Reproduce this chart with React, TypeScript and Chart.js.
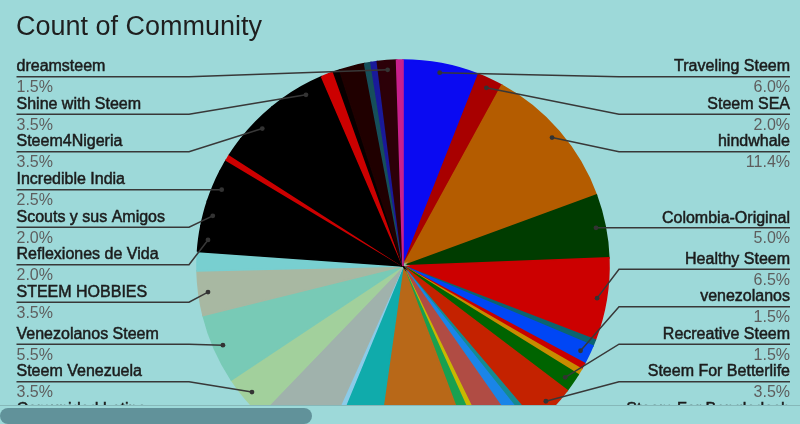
import React, { useEffect, useRef } from 'react';
import { Chart, registerables } from 'chart.js';

Chart.register(...registerables);

const TITLE = 'Count of Community';

// Slices in clockwise order from 12 o'clock (counts; total 201)
const communities = [
  'Traveling Steem', 'Steem SEA', 'hindwhale', 'Colombia-Original', 'Healthy Steem',
  'Community 6', 'venezolanos', 'Community 8', 'Community 9', 'Recreative Steem',
  'Steem For Betterlife', 'Community 12', 'Community 13', 'Steem For Bangladesh', 'Community 15',
  'Community 16', 'Community 17', 'Community 18', 'Community 19', 'Comunidad Latina',
  'Steem Venezuela', 'Venezolanos Steem', 'STEEM HOBBIES', 'Community 24', 'Reflexiones de Vida',
  'Scouts y sus Amigos', 'Incredible India', 'Community 28', 'Community 29', 'Community 30',
  'Steem4Nigeria', 'Community 32', 'Shine with Steem', 'Community 34', 'Community 35',
  'Community 36', 'Community 37', 'Community 38', 'dreamsteem', 'Community 40',
];

const counts = [
  12, 4, 23, 10, 13,
  1, 3, 1, 1, 3,
  7, 1, 2, 5, 1,
  2, 16, 8, 1, 11,
  7, 11, 7, 3, 4,
  4, 5, 2, 1, 3,
  7, 2, 7, 2, 1,
  4, 1, 1, 3, 1,
];

const sliceColors = [
  '#0a0af2', '#a80000', '#b45c00', '#003c00', '#cc0000',
  '#0b6470', '#0046f5', '#c80000', '#c88c00', '#006400',
  '#c42200', '#158a90', '#1a85e8', '#b04c44', '#c8b800',
  '#18a050', '#b86818', '#10abab', '#8ccbe8', '#a0b2ac',
  '#a2d09c', '#78cab6', '#a8b8a2', '#78cfd0', '#000000',
  '#000000', '#000000', '#000000', '#cc0000', '#000000',
  '#000000', '#000000', '#000000', '#cc0000', '#060000',
  '#200000', '#164f5a', '#1a1a9a', '#2c0008', '#c8208c',
];

// Slices that carry an outside label
const labeledCommunities = [
  'Traveling Steem', 'Steem SEA', 'hindwhale', 'Colombia-Original', 'Healthy Steem',
  'venezolanos', 'Recreative Steem', 'Steem For Betterlife', 'Steem For Bangladesh', 'Community 17',
  'Community 18', 'Comunidad Latina', 'Steem Venezuela', 'Venezolanos Steem', 'STEEM HOBBIES',
  'Reflexiones de Vida', 'Scouts y sus Amigos', 'Incredible India', 'Steem4Nigeria',
  'Shine with Steem', 'dreamsteem',
];

const BG = '#9dd9d9';
const FONT = '"Liberation Sans", Arial, Helvetica, sans-serif';

const TOP_ROW = 76.7;
const BOTTOM_ROW = 456.7;
const ROW_GAP = 37.5;
const LEFT_X = 16.5;
const RIGHT_X = 790;
const LEFT_ELBOW = 189;
const RIGHT_ELBOW = 619;
const DOT_RATIO = 0.955;

type Item = { idx: number; dotX: number; dotY: number; row: number };

const layoutSide = (items: Item[]) => {
  items.sort((a, b) => a.dotY - b.dotY);
  let prev = -Infinity;
  for (const it of items) {
    it.row = Math.max(it.dotY, TOP_ROW, prev + ROW_GAP);
    prev = it.row;
  }
  let next = Infinity;
  for (let k = items.length - 1; k >= 0; k--) {
    const it = items[k];
    it.row = Math.min(it.row, BOTTOM_ROW, next - ROW_GAP);
    next = it.row;
  }
};

const labelPlugin = {
  id: 'sheetLabels',
  afterDraw(chart: any) {
    const ctx: CanvasRenderingContext2D = chart.ctx;
    const meta = chart.getDatasetMeta(0);
    const total = counts.reduce((a, b) => a + b, 0);
    const left: Item[] = [];
    const right: Item[] = [];
    meta.data.forEach((arc: any, i: number) => {
      const p = arc.getProps(['x', 'y', 'startAngle', 'endAngle', 'outerRadius'], true);
      if (!labeledCommunities.includes(communities[i])) return;
      const mid = (p.startAngle + p.endAngle) / 2;
      const r = p.outerRadius * DOT_RATIO;
      const it: Item = { idx: i, dotX: p.x + Math.cos(mid) * r, dotY: p.y + Math.sin(mid) * r, row: 0 };
      (it.dotX < p.x ? left : right).push(it);
    });
    layoutSide(left);
    layoutSide(right);

    ctx.save();
    // title
    ctx.fillStyle = '#1f1f1f';
    ctx.font = `27px ${FONT}`;
    ctx.textAlign = 'left';
    ctx.textBaseline = 'alphabetic';
    ctx.fillText(TITLE, 16, 35);

    const drawItem = (it: Item, isLeft: boolean) => {
      const tx = isLeft ? LEFT_X : RIGHT_X;
      const ex = isLeft ? LEFT_ELBOW : RIGHT_ELBOW;
      ctx.strokeStyle = '#383838';
      ctx.lineWidth = 1.5;
      ctx.beginPath();
      ctx.moveTo(tx, it.row);
      ctx.lineTo(ex, it.row);
      ctx.lineTo(it.dotX, it.dotY);
      ctx.stroke();
      ctx.fillStyle = '#333333';
      ctx.beginPath();
      ctx.arc(it.dotX, it.dotY, 2.4, 0, Math.PI * 2);
      ctx.fill();

      ctx.textAlign = isLeft ? 'left' : 'right';
      ctx.font = `16px ${FONT}`;
      ctx.fillStyle = '#1c1c1c';
      ctx.strokeStyle = '#1c1c1c';
      ctx.lineWidth = 0.5;
      ctx.fillText(communities[it.idx], tx, it.row - 5.3);
      ctx.strokeText(communities[it.idx], tx, it.row - 5.3);
      ctx.fillStyle = '#5e5e5e';
      const pct = ((counts[it.idx] / total) * 100).toFixed(1) + '%';
      ctx.fillText(pct, tx, it.row + 15.5);
    };
    left.forEach((it) => drawItem(it, true));
    right.forEach((it) => drawItem(it, false));
    ctx.restore();
  },
};

export default function App() {
  const ref = useRef<HTMLCanvasElement>(null);
  useEffect(() => {
    const canvas = ref.current;
    if (!canvas) return;
    const chart = new Chart(canvas, {
      type: 'pie',
      data: {
        labels: communities,
        datasets: [
          {
            data: counts,
            backgroundColor: sliceColors,
            borderColor: sliceColors,
            borderWidth: 1.6,
            borderJoinStyle: 'miter',
          } as any,
        ],
      },
      options: {
        responsive: false,
        animation: false,
        devicePixelRatio: 1,
        radius: 206,
        layout: { padding: { left: 6, right: 0, top: 0, bottom: 0 } },
        plugins: {
          legend: { display: false },
          tooltip: { enabled: false },
          title: { display: false },
        },
      } as any,
      plugins: [labelPlugin],
    });
    return () => chart.destroy();
  }, []);

  return (
    <div style={{ position: 'fixed', left: 0, top: 0, width: 800, height: 424, background: BG, overflow: 'hidden' }}>
      <div style={{ position: 'absolute', left: 0, top: 0, width: 800, height: 405, overflow: 'hidden' }}>
        <canvas ref={ref} width={800} height={532} style={{ display: 'block', width: 800, height: 532 }} />
      </div>
      <div style={{ position: 'absolute', left: 0, top: 405, width: 800, height: 1, background: '#86b8b9' }} />
      <div style={{ position: 'absolute', left: 0, top: 408, width: 312, height: 16, background: '#61929a', borderRadius: 8 }} />
    </div>
  );
}
